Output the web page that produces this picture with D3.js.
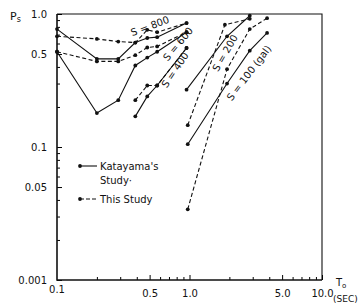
<!DOCTYPE html>
<html>
<head>
<meta charset="utf-8">
<script src="https://cdn.jsdelivr.net/npm/d3@7"></script>
<style>
body { margin: 0; background: #fff; }
text { font-family: "DejaVu Sans", sans-serif; fill: #111; }
</style>
</head>
<body>
<div id="chart"></div>
<script>
// natural periods T0 (sec)
var shortPeriods = [0.1, 0.2, 0.29, 0.39, 0.48, 0.57, 0.95];
var midPeriods = [0.39, 0.48, 0.57, 0.95];
var s200SolidPeriods = [0.95, 1.92, 2.85];
var s200DashPeriods = [0.97, 1.85, 2.85];
var longPeriods = [0.97, 1.92, 2.85, 3.85];

// probability Ps, Katayama's study (solid) and this study (dashed)
var kata800 = [0.77, 0.46, 0.46, 0.61, 0.66, 0.67, 0.855];
var this800 = [0.68, 0.65, 0.62, 0.61, 0.76, 0.73, 0.855];
var kata600 = [0.52, 0.18, 0.225, 0.41, 0.47, 0.52, 0.73];
var this600 = [0.52, 0.44, 0.44, 0.49, 0.56, 0.57, 0.73];
var kata400 = [0.17, 0.24, 0.29, 0.555];
var this400 = [0.225, 0.29, 0.29, 0.555];
var kata200 = [0.27, 0.68, 0.97];
var this200 = [0.146, 0.83, 0.92];
var kata100 = [0.105, 0.30, 0.53, 0.72];
var this100 = [0.034, 0.385, 0.77, 0.93];

// tick labels
var xTicks = [0.5, 1, 5, 10];
var xTickLabels = ["0.5", "1.0", "5.0", "10.0"];
var yTicks = [0.01, 0.05, 0.1, 0.5, 1];
var yTickLabels = ["0.001", "0.05", "0.1", "0.5", "1.0"];

var series = [
  { t: shortPeriods, p: kata800, dashed: false },
  { t: shortPeriods, p: this800, dashed: true },
  { t: shortPeriods, p: kata600, dashed: false },
  { t: shortPeriods, p: this600, dashed: true },
  { t: midPeriods, p: kata400, dashed: false },
  { t: midPeriods, p: this400, dashed: true },
  { t: s200SolidPeriods, p: kata200, dashed: false },
  { t: s200DashPeriods, p: this200, dashed: true },
  { t: longPeriods, p: kata100, dashed: false },
  { t: longPeriods, p: this100, dashed: true }
];

var svgWidth = 363;
var svgHeight = 308;
var margin = { top: 14, right: 41, bottom: 28, left: 57 };
var width = svgWidth - margin.left - margin.right;
var height = svgHeight - margin.top - margin.bottom;

var svg = d3.select("#chart")
  .append("svg")
  .attr("width", svgWidth)
  .attr("height", svgHeight);

var chartGroup = svg.append("g")
  .attr("transform", `translate(${margin.left}, ${margin.top})`);

var xScale = d3.scaleLog().domain([0.1, 10]).range([0, width]);
var yScale = d3.scaleLog().domain([0.01, 1]).range([height, 0]);

// frame (top and right)
chartGroup.append("path")
  .attr("d", `M0,0H${width}V${height}`)
  .attr("fill", "none")
  .attr("stroke", "#111")
  .attr("stroke-width", 1.1);

// minor ticks
var xMinor = xScale.ticks().filter(d => xTicks.indexOf(d) < 0 && d > 0.1);
var yMinor = yScale.ticks().filter(d => yTicks.indexOf(d) < 0);

chartGroup.append("g")
  .attr("transform", `translate(0, ${height})`)
  .call(d3.axisBottom(xScale).tickValues(xMinor).tickSize(-3).tickFormat(""))
  .call(g => g.select(".domain").remove());

chartGroup.append("g")
  .call(d3.axisLeft(yScale).tickValues(yMinor).tickSize(-3).tickFormat(""))
  .call(g => g.select(".domain").remove());

// major ticks + labels
var bottomAxis = d3.axisBottom(xScale)
  .tickValues(xTicks)
  .tickSize(-5)
  .tickPadding(10)
  .tickFormat((d, i) => xTickLabels[i]);

chartGroup.append("g")
  .attr("transform", `translate(0, ${height})`)
  .call(bottomAxis)
  .call(g => g.select(".domain").remove())
  .call(g => g.selectAll("text").style("font-size", "10px").attr("font-family", null));

var leftAxis = d3.axisLeft(yScale)
  .tickValues(yTicks)
  .tickSize(-5)
  .tickPadding(10)
  .tickFormat((d, i) => yTickLabels[i]);

chartGroup.append("g")
  .call(leftAxis)
  .call(g => g.select(".domain").remove())
  .call(g => g.selectAll("text").style("font-size", "10px").attr("font-family", null));

chartGroup.select("g:last-child").selectAll(".tick text")
  .filter(d => d === 0.01)
  .attr("dy", "0.1em")
  .attr("x", -4);

// left + bottom axis lines
chartGroup.append("path")
  .attr("d", `M0,0V${height}H${width}`)
  .attr("fill", "none")
  .attr("stroke", "#111")
  .attr("stroke-width", 1.6);

// x origin label
chartGroup.append("text")
  .attr("x", xScale(0.1))
  .attr("y", height + 13)
  .attr("text-anchor", "middle")
  .style("font-size", "10px")
  .text("0.1");

// lines
var line = d3.line()
  .x(d => xScale(d[0]))
  .y(d => yScale(d[1]));

series.forEach(function(s) {
  var pts = s.t.map((t, i) => [t, s.p[i]]);
  chartGroup.append("path")
    .datum(pts)
    .attr("d", line)
    .attr("fill", "none")
    .attr("stroke", "#111")
    .attr("stroke-width", 1.1)
    .attr("stroke-dasharray", s.dashed ? "4,2.5" : null);

  chartGroup.selectAll(null)
    .data(pts)
    .enter()
    .append("circle")
    .attr("cx", d => xScale(d[0]))
    .attr("cy", d => yScale(d[1]))
    .attr("r", 1.9)
    .attr("fill", "#111");
});

// S labels along the lines
var curveLabels = [
  { text: "S = 800", x: 150, y: 26, a: -20 },
  { text: "S = 600", x: 178, y: 44, a: -50 },
  { text: "S = 400", x: 175, y: 70, a: -56 },
  { text: "S = 200", x: 225, y: 53, a: -60 },
  { text: "S = 100 (gal)", x: 249, y: 73, a: -53 }
];

svg.selectAll(".curveLabel")
  .data(curveLabels)
  .enter()
  .append("text")
  .attr("class", "curveLabel")
  .attr("transform", d => `translate(${d.x}, ${d.y}) rotate(${d.a})`)
  .attr("text-anchor", "middle")
  .attr("dy", "0.35em")
  .style("font-size", "10px")
  .text(d => d.text);

// legend
var legend = svg.append("g");
legend.append("line")
  .attr("x1", 80).attr("x2", 97).attr("y1", 166).attr("y2", 166)
  .attr("stroke", "#111").attr("stroke-width", 1.1);
legend.append("circle").attr("cx", 80).attr("cy", 166).attr("r", 1.9).attr("fill", "#111");
legend.append("text").attr("x", 100).attr("y", 170).style("font-size", "10px").text("Katayama's");
legend.append("text").attr("x", 100).attr("y", 184).style("font-size", "10px").text("Study·");

legend.append("line")
  .attr("x1", 80).attr("x2", 97).attr("y1", 199).attr("y2", 199)
  .attr("stroke", "#111").attr("stroke-width", 1.1).attr("stroke-dasharray", "4,2");
legend.append("circle").attr("cx", 80).attr("cy", 199).attr("r", 1.9).attr("fill", "#111");
legend.append("text").attr("x", 100).attr("y", 203).style("font-size", "10px").text("This Study");

// axis titles
var yTitle = svg.append("text").attr("x", 10).attr("y", 20).style("font-size", "11px");
yTitle.append("tspan").text("P");
yTitle.append("tspan").attr("dy", 2).style("font-size", "8px").text("s");

var xTitle = svg.append("text").attr("x", 336).attr("y", 286).style("font-size", "10px");
xTitle.append("tspan").text("T");
xTitle.append("tspan").attr("dy", 2).style("font-size", "7px").text("o");

svg.append("text")
  .attr("x", 333)
  .attr("y", 302)
  .style("font-size", "9px")
  .text("(SEC)");
</script>
</body>
</html>
